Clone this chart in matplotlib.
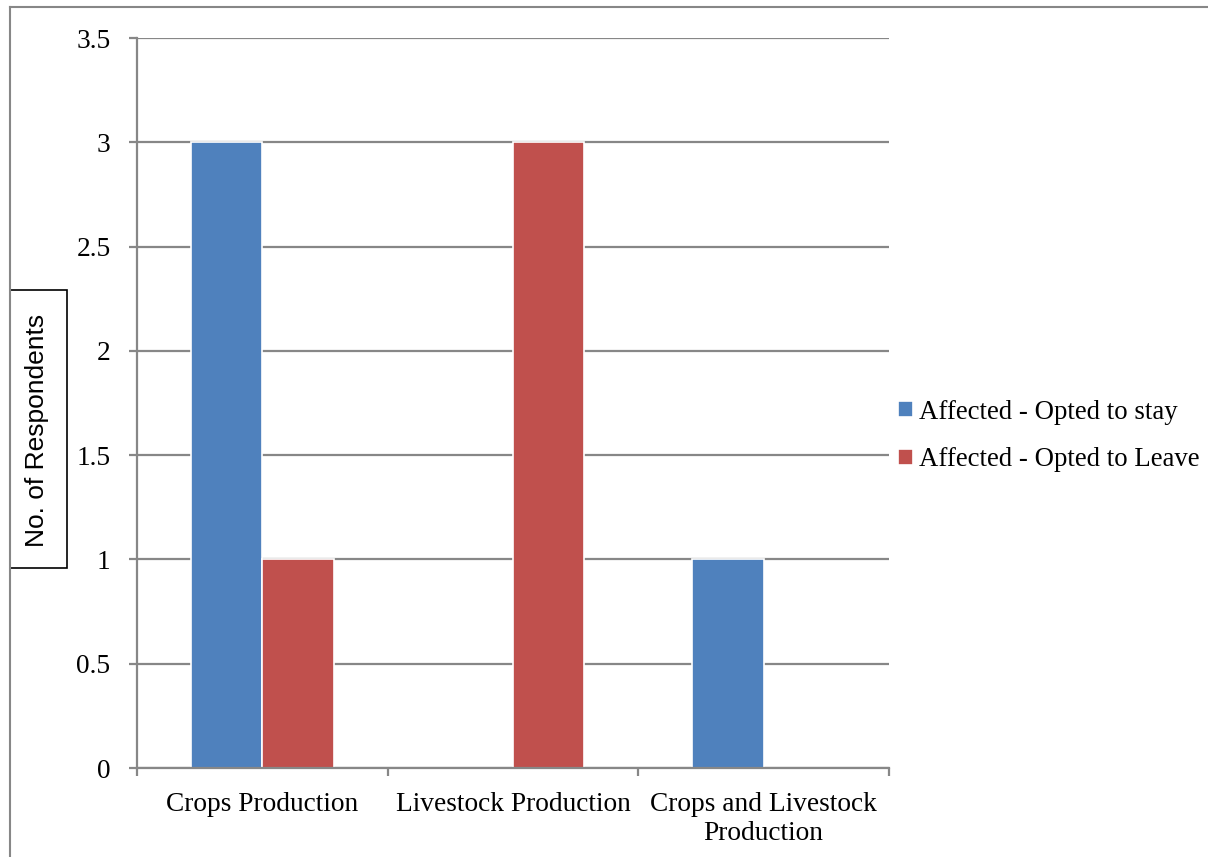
import matplotlib
matplotlib.use("Agg")
import matplotlib.pyplot as plt
from matplotlib.patches import Rectangle
from matplotlib.lines import Line2D
import numpy as np

categories = ["Crops Production", "Livestock Production", "Crops and Livestock\nProduction"]
opted_to_stay = [3, 0, 1]
opted_to_leave = [1, 3, 0]
series_labels = ["Affected - Opted to stay", "Affected - Opted to Leave"]
y_ticks = [0, 0.5, 1, 1.5, 2, 2.5, 3, 3.5]
y_tick_labels = ["0", "0.5", "1", "1.5", "2", "2.5", "3", "3.5"]

W, H = 1208, 857
DPI = 100
fig = plt.figure(figsize=(W / DPI, H / DPI), dpi=DPI)
fig.patch.set_facecolor("white")

GRID = "#878787"
BLUE = "#4F81BD"
RED = "#C0504D"
SERIF = ["Liberation Serif", "DejaVu Serif"]
FS = 19.7

# plot area in pixel units
x0, x1, ytop, ybot = 137, 889, 38, 768
ax = fig.add_axes([x0 / W, 1 - ybot / H, (x1 - x0) / W, (ybot - ytop) / H])

x = np.arange(len(categories))
w = 0.285
ax.bar(x - w / 2, opted_to_stay, w, color=BLUE, edgecolor="white", linewidth=1.2,
       label=series_labels[0], zorder=2)
ax.bar(x + w / 2, opted_to_leave, w, color=RED, edgecolor="white", linewidth=1.2,
       label=series_labels[1], zorder=2)

ax.set_xlim(-0.5, len(categories) - 0.5)
ax.set_ylim(0, 3.5)
ax.set_yticks(y_ticks)
ax.set_yticklabels(y_tick_labels, fontfamily=SERIF, fontsize=FS)
ax.yaxis.grid(True, color=GRID, linewidth=1.6, zorder=0)
ax.set_axisbelow(True)

# category boundaries carry the tick marks, labels sit at the centres
ax.set_xticks(np.arange(len(categories) + 1) - 0.5)
ax.set_xticklabels([])
ax.set_xticks(x, minor=True)
ax.set_xticklabels(categories, minor=True, fontfamily=SERIF, fontsize=FS,
                   linespacing=1.22)
ax.tick_params(axis="x", which="minor", length=0, pad=17)
ax.tick_params(axis="x", which="major", length=6, width=1.6, color=GRID)
ax.tick_params(axis="y", length=6, width=1.6, color=GRID, pad=13)

for side in ["top", "right"]:
    ax.spines[side].set_visible(False)
for side in ["left", "bottom"]:
    ax.spines[side].set_color(GRID)
    ax.spines[side].set_linewidth(1.6)
    ax.spines[side].set_zorder(3)

# y-axis title in a framed box
to_fig = lambda px, py: (px / W, 1 - py / H)
bx0, by0 = to_fig(10, 568)
bx1, by1 = to_fig(67, 290)
fig.patches.append(Rectangle((bx0, by0), bx1 - bx0, by1 - by0, transform=fig.transFigure,
                             fill=False, edgecolor="black", linewidth=1.2))
tx, ty = to_fig(37, 430)
fig.text(tx, ty, "No. of Respondents", rotation=90, ha="center", va="center",
         fontfamily=["Liberation Sans", "DejaVu Sans"], fontsize=19)

# outer chart border (top and left edges)
fig.add_artist(Line2D([10 / W, 1], [1 - 7 / H, 1 - 7 / H], transform=fig.transFigure,
                      color=GRID, linewidth=1.5))
fig.add_artist(Line2D([10 / W, 10 / W], [0, 1 - 7 / H], transform=fig.transFigure,
                      color=GRID, linewidth=1.5))

leg = fig.legend(loc="center left", bbox_to_anchor=(898 / W, 1 - 436 / H), frameon=False,
                 prop={"family": SERIF, "size": 19.3}, handlelength=0.55, handleheight=0.55,
                 handletextpad=0.25, labelspacing=0.85, borderaxespad=0, borderpad=0)

fig.savefig("out.png", dpi=DPI, facecolor="white")
